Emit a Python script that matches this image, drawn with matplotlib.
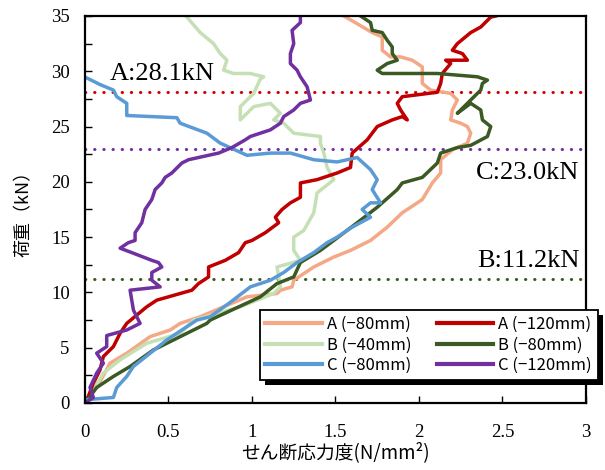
import matplotlib
matplotlib.use('Agg')
import matplotlib.pyplot as plt
from matplotlib.patches import Rectangle

# せん断応力度 (N/mm2) と 荷重 (kN)
a80_x = [0, 0.05, 0.10, 0.15, 0.25, 0.39, 0.51, 0.57, 0.69, 0.97, 1.15, 1.17, 1.24, 1.25, 1.37, 1.49, 1.59, 1.71,
         1.81, 1.90, 2.02, 2.08, 2.13, 2.13, 2.20, 2.29, 2.31, 2.29, 2.25, 2.19, 2.20, 2.23, 2.19, 2.07, 2.02, 2.02,
         2.02, 1.96, 1.89, 1.83, 1.78, 1.78, 1.72, 1.63, 1.55]
a80_y = [0, 1.0, 2.2, 3.6, 4.5, 6.0, 6.6, 7.2, 7.8, 9.6, 9.9, 10.2, 10.5, 11.1, 12.3, 13.2, 13.8, 14.7,
         15.9, 17.2, 18.4, 19.9, 20.8, 22.0, 22.9, 23.5, 24.4, 25.0, 25.3, 25.6, 26.5, 27.4, 28.0, 28.3, 28.9, 29.8,
         30.4, 31.0, 31.3, 31.3, 31.9, 33.1, 33.5, 34.3, 35.0]

a120_x = [0, 0.02, 0.05, 0.09, 0.11, 0.17, 0.21, 0.25, 0.37, 0.43, 0.64, 0.68, 0.74, 0.74, 0.84, 0.92, 0.96, 1.00,
          1.08, 1.16, 1.14, 1.18, 1.23, 1.29, 1.29, 1.39, 1.51, 1.59, 1.60, 1.69, 1.75, 1.84, 1.90, 1.93, 1.89, 1.87,
          1.90, 2.11, 2.13, 2.14, 2.19, 2.16, 2.29, 2.26, 2.20, 2.23, 2.31, 2.37, 2.43, 2.46]
a120_y = [0, 0.6, 1.8, 3.0, 4.2, 5.1, 6.3, 7.2, 8.7, 9.3, 10.2, 10.8, 11.4, 12.3, 12.9, 13.6, 14.5, 14.7,
          15.4, 16.3, 16.8, 17.5, 18.1, 18.6, 19.9, 20.2, 20.8, 21.3, 22.6, 23.8, 25.0, 25.6, 25.9, 25.6, 26.5, 27.1,
          27.7, 28.1, 28.9, 29.8, 30.7, 31.0, 31.0, 31.6, 31.9, 32.5, 33.5, 34.0, 34.9, 35.0]

b40_x = [0, 0.05, 0.11, 0.21, 0.37, 0.57, 0.65, 0.93, 1.13, 1.17, 1.15, 1.29, 1.25, 1.25, 1.31, 1.37, 1.39, 1.49,
         1.45, 1.43, 1.41, 1.41, 1.25, 1.19, 1.13, 1.17, 1.11, 1.01, 0.93, 0.93, 1.01, 1.05, 1.07, 0.99, 0.89, 0.83,
         0.85, 0.81, 0.77, 0.69, 0.61]
b40_y = [0, 1.2, 2.7, 3.9, 5.4, 6.3, 7.5, 8.7, 9.9, 10.5, 12.3, 12.9, 13.8, 15.0, 15.6, 17.2, 19.0, 20.2,
         21.3, 22.6, 23.5, 24.1, 24.4, 25.3, 25.6, 26.2, 27.1, 26.8, 25.6, 26.8, 28.0, 29.3, 29.5, 29.8, 29.8, 30.1,
         31.0, 31.6, 32.5, 33.5, 34.9]

b80_x = [0, 0.07, 0.17, 0.27, 0.41, 0.57, 0.73, 0.75, 1.05, 1.15, 1.25, 1.29, 1.41, 1.49, 1.63, 1.75, 1.78, 1.87,
         1.90, 2.02, 2.11, 2.13, 2.23, 2.31, 2.41, 2.43, 2.38, 2.37, 2.31, 2.23, 2.31, 2.37, 2.38, 2.41, 2.35, 2.11,
         1.90, 1.78, 1.75, 1.81, 1.87, 1.84, 1.84, 1.81, 1.78, 1.72, 1.71, 1.65]
b80_y = [0, 1.4, 2.4, 3.3, 4.8, 6.0, 7.2, 7.5, 9.6, 10.8, 11.4, 12.7, 13.8, 14.7, 16.3, 17.7, 18.1, 19.3,
         19.9, 20.4, 21.7, 22.6, 23.1, 23.3, 24.1, 25.0, 25.6, 26.5, 27.1, 26.2, 27.4, 28.3, 28.9, 29.2, 29.5, 29.8,
         29.8, 29.8, 30.1, 30.7, 31.0, 31.6, 32.2, 32.8, 33.5, 33.7, 34.4, 35.0]

c80_x = [0, 0.01, 0.17, 0.19, 0.25, 0.29, 0.39, 0.49, 0.61, 0.67, 0.75, 0.87, 0.99, 1.11, 1.19, 1.27, 1.37, 1.45,
         1.51, 1.60, 1.71, 1.66, 1.71, 1.77, 1.72, 1.75, 1.71, 1.63, 1.51, 1.37, 1.23, 1.11, 0.97, 0.81, 0.73, 0.57,
         0.55, 0.25, 0.25, 0.19, 0.17, 0.09, 0.01]
c80_y = [0, 0.3, 0.5, 1.4, 2.4, 3.3, 4.5, 5.7, 6.9, 7.5, 7.8, 9.1, 10.5, 11.1, 11.8, 12.7, 13.6, 14.5,
         15.0, 15.9, 16.8, 17.5, 18.1, 18.1, 19.3, 20.2, 21.1, 22.2, 21.8, 22.0, 22.6, 22.6, 22.4, 23.5, 24.4, 25.3,
         25.8, 26.0, 27.1, 27.7, 28.3, 28.8, 29.4]

c120_x = [0, 0.05, 0.03, 0.07, 0.11, 0.07, 0.13, 0.13, 0.25, 0.33, 0.29, 0.28, 0.27, 0.45, 0.40, 0.40, 0.46, 0.44,
          0.40, 0.28, 0.21, 0.26, 0.30, 0.30, 0.34, 0.36, 0.40, 0.42, 0.46, 0.48, 0.52, 0.58, 0.62, 0.74, 0.80, 0.88,
          0.96, 0.99, 1.11, 1.17, 1.19, 1.25, 1.29, 1.35, 1.33, 1.29, 1.27, 1.23, 1.23, 1.25, 1.24, 1.29, 1.29]
c120_y = [0, 0.5, 1.4, 2.7, 3.6, 4.5, 5.1, 6.1, 6.6, 7.2, 8.4, 9.3, 10.2, 10.5, 11.1, 11.8, 12.3, 12.7,
          12.9, 13.6, 14.0, 14.5, 14.7, 15.4, 16.3, 17.5, 18.4, 19.3, 19.9, 20.4, 20.8, 21.7, 22.0, 22.4, 22.6, 23.1,
          23.8, 24.1, 24.7, 25.3, 25.9, 26.5, 27.1, 27.4, 28.6, 29.5, 30.1, 30.7, 31.6, 32.5, 33.7, 34.4, 35.0]

labels = ['A (−80mm)', 'A (−120mm)', 'B (−40mm)', 'B (−80mm)', 'C (−80mm)', 'C (−120mm)']
colors = ['#F4A886', '#C00000', '#C5E0B4', '#3B5A23', '#5B9BD5', '#7030A0']

limit_loads = [28.1, 23.0, 11.2]
limit_colors = ['#D40000', '#7030A0', '#3B5A23']
limit_texts = ['A:28.1kN', 'C:23.0kN', 'B:11.2kN']

cjk = ['Noto Sans CJK JP', 'DejaVu Sans']
plt.rcParams['font.family'] = ['Liberation Serif', 'DejaVu Serif']

fig = plt.figure(figsize=(6.05, 4.70), dpi=100)
ax = fig.add_axes([0.1405, 0.1426, 0.828, 0.8234])

series = [(a80_x, a80_y), (a120_x, a120_y), (b40_x, b40_y), (b80_x, b80_y), (c80_x, c80_y), (c120_x, c120_y)]
# drawing order: light ones first, the darker ones on top
order = [0, 2, 1, 3, 4, 5]
lines = {}
for i in order:
    xs, ys = series[i]
    lines[i], = ax.plot(xs, ys, color=colors[i], linewidth=2.5, label=labels[i], solid_joinstyle='round')

for load, c in zip(limit_loads, limit_colors):
    ax.axhline(load, xmin=0, xmax=0.993, color=c, linewidth=2.2,
               linestyle=(0, (0.1, 2.9)), dash_capstyle='round', zorder=1)

ax.text(0.15, 29.2, limit_texts[0], fontsize=19, ha='left', va='baseline')
ax.text(2.96, 20.3, limit_texts[1], fontsize=19, ha='right', va='baseline')
ax.text(2.96, 12.3, limit_texts[2], fontsize=19, ha='right', va='baseline')

ax.set_xlim(0, 3)
ax.set_ylim(0, 35)
ax.set_xticks([0, 0.5, 1, 1.5, 2, 2.5, 3])
ax.set_xticklabels(['0', '0.5', '1', '1.5', '2', '2.5', '3'])
ax.set_yticks([0, 5, 10, 15, 20, 25, 30, 35])
ax.set_yticks([2.5, 7.5, 12.5, 17.5, 22.5, 27.5, 32.5], minor=True)
ax.tick_params(axis='both', which='both', direction='in', length=5, width=1, labelsize=13.5)
ax.tick_params(axis='x', pad=15)
ax.tick_params(axis='y', pad=11)
for s in ax.spines.values():
    s.set_linewidth(1.6)
    s.set_color('black')

ax.set_xlabel('せん断応力度(N/mm²)', family=cjk, fontsize=13.5, labelpad=1)
ax.set_ylabel('荷重（kN）', family=cjk, fontsize=13, labelpad=13)

# column-wise fill: A-80, B-40, C-80 | A-120, B-80, C-120
leg_order = [0, 2, 4, 1, 3, 5]
handles = [lines[i] for i in leg_order]
leg = fig.legend(handles, [labels[i] for i in leg_order], loc='upper right', bbox_to_anchor=(0.988, 0.34),
                 ncol=2, prop={'family': cjk, 'size': 12}, frameon=True, fancybox=False,
                 edgecolor='black', framealpha=1, handlelength=3.4, handletextpad=0.3,
                 columnspacing=1.5, labelspacing=0.2, borderpad=0.35, borderaxespad=0)
leg.get_frame().set_linewidth(1.3)
for h in leg.legend_handles:
    h.set_linewidth(3)

# solid black drop shadow behind the legend box
fig.canvas.draw()
bb = leg.get_window_extent().transformed(fig.transFigure.inverted())
dx, dy = 5 / 605, 5 / 470
fig.patches.append(Rectangle((bb.x0 + dx, bb.y0 - dy), bb.width, bb.height,
                             transform=fig.transFigure, facecolor='black', edgecolor='none', zorder=4))

fig.savefig('out.png', dpi=100)
